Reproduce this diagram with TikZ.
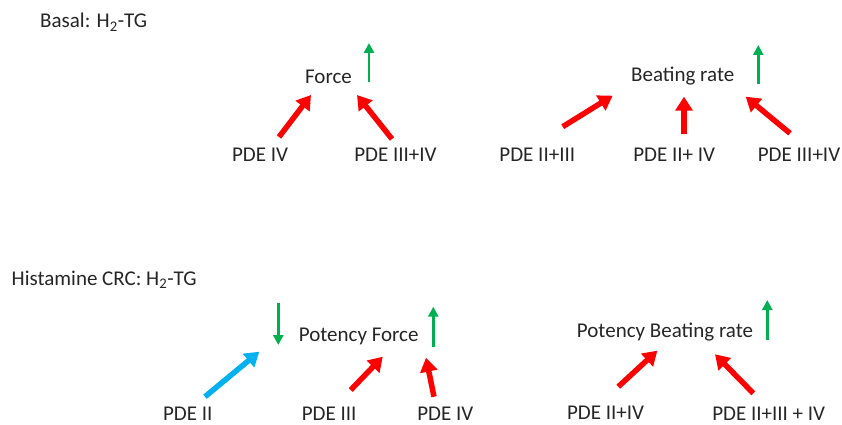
\documentclass[tikz,border=0pt]{standalone}
\usepackage{fontspec}
\setmainfont{Carlito}
\usetikzlibrary{arrows.meta}
\definecolor{cred}{HTML}{FF0000}
\definecolor{cgreen}{HTML}{00B050}
\definecolor{cblue}{HTML}{00B0F0}
\begin{document}
\begin{tikzpicture}[x=1pt,y=-1pt,
  lbl/.style={anchor=base,inner sep=0pt,font=\fontsize{21}{24}\selectfont,text=black!85},
  lblw/.style={lbl,anchor=base west},
  effect/.style={line width=5.5pt,-{Triangle[width=17pt,length=14pt]}},
  redarr/.style={effect,draw=cred,color=cred},
  bluearr/.style={effect,draw=cblue,color=cblue},
  greenarr/.style={line width=2.8pt,draw=cgreen,color=cgreen,-{Triangle[width=10pt,length=10pt]}}]
\useasboundingbox (0,0) rectangle (842,425);
\fill[white] (0,0) rectangle (842,425);

% ---------- Basal ----------
\node[lblw] (basal) at (40,28) {Basal: H\textsubscript{2}-TG};

\node[lbl] (force) at (328.5,84) {Force};
\coordinate (gf1) at (369,82);
\coordinate (gf2) at (369,43);
\draw[greenarr] (gf1) -- (gf2);

\node[lbl] (p4) at (260,161.5) {PDE IV};
\node[lbl] (p34) at (395.5,161.5) {PDE III+IV};
\coordinate (a1t) at (279,137);
\coordinate (a1h) at (311,95);
\coordinate (a2t) at (392,139);
\coordinate (a2h) at (357,95);
\draw[redarr] (a1t) -- (a1h);
\draw[redarr] (a2t) -- (a2h);

\node[lbl] (beat) at (682.7,81.7) {Beating rate};
\coordinate (gb1) at (758.3,84);
\coordinate (gb2) at (758.3,45);
\draw[greenarr] (gb1) -- (gb2);

\node[lbl] (p23) at (537.3,161) {PDE II+III};
\node[lbl] (p24) at (674.2,161) {PDE II+ IV};
\node[lbl] (p34b) at (799,161) {PDE III+IV};
\coordinate (b1t) at (562.7,126.7);
\coordinate (b1h) at (612.7,95.7);
\coordinate (b2t) at (684,134);
\coordinate (b2h) at (684,96.7);
\coordinate (b3t) at (790,133.3);
\coordinate (b3h) at (745.7,96.7);
\draw[redarr] (b1t) -- (b1h);
\draw[redarr] (b2t) -- (b2h);
\draw[redarr] (b3t) -- (b3h);

% ---------- Histamine CRC ----------
\node[lblw] (hist) at (11.5,285) {Histamine CRC: H\textsubscript{2}-TG};

\node[lbl] (pforce) at (358.7,341) {Potency Force};
\coordinate (gd1) at (278.3,303.3);
\coordinate (gd2) at (278.3,345);
\draw[greenarr] (gd1) -- (gd2);
\coordinate (gu1) at (433.3,346.7);
\coordinate (gu2) at (433.3,306.7);
\draw[greenarr] (gu1) -- (gu2);

\node[lbl] (q2) at (187.7,420.5) {PDE II};
\node[lbl] (q3) at (329.2,420.5) {PDE III};
\node[lbl] (q4) at (445.3,420.5) {PDE IV};
\coordinate (c1t) at (205,396.7);
\coordinate (c1h) at (259.3,351.7);
\coordinate (c2t) at (350.7,390);
\coordinate (c2h) at (382.7,356.7);
\coordinate (c3t) at (434,396.7);
\coordinate (c3h) at (426,357.7);
\draw[bluearr] (c1t) -- (c1h);
\draw[redarr] (c2t) -- (c2h);
\draw[redarr] (c3t) -- (c3h);

\node[lbl] (pbeat) at (665,337.3) {Potency Beating rate};
\coordinate (gp1) at (767.3,340);
\coordinate (gp2) at (767.3,300);
\draw[greenarr] (gp1) -- (gp2);

\node[lbl] (r24) at (605.5,419.5) {PDE II+IV};
\node[lbl] (r234) at (768.7,420.5) {PDE II+III + IV};
\coordinate (d1t) at (618.3,386.7);
\coordinate (d1h) at (657.3,350.7);
\coordinate (d2t) at (753.3,393.3);
\coordinate (d2h) at (715,354.3);
\draw[redarr] (d1t) -- (d1h);
\draw[redarr] (d2t) -- (d2h);
\end{tikzpicture}
\end{document}
